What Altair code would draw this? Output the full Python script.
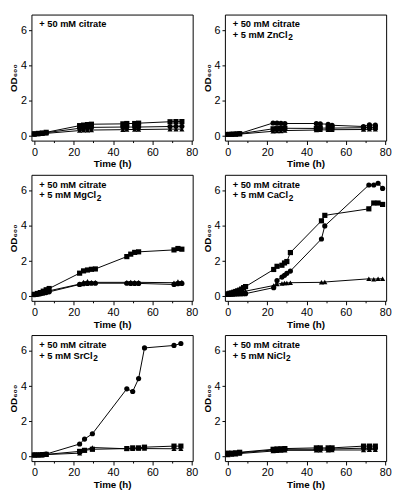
import altair as alt
import pandas as pd

# ---- data ----
t1 = [0, 2, 4, 6, 23, 25, 27, 29, 45, 47, 51, 53, 69, 72, 75]
sq1 = [0.14, 0.16, 0.18, 0.22, 0.6, 0.63, 0.66, 0.68, 0.7, 0.72, 0.72, 0.74, 0.82, 0.83, 0.83]
ci1 = [0.12, 0.14, 0.16, 0.2, 0.45, 0.47, 0.48, 0.5, 0.52, 0.52, 0.52, 0.52, 0.55, 0.56, 0.56]
tr1 = [0.1, 0.12, 0.14, 0.16, 0.32, 0.33, 0.34, 0.35, 0.37, 0.38, 0.38, 0.38, 0.4, 0.4, 0.4]

t2 = [0, 2, 4, 6, 23, 25, 27, 29, 45, 47, 51, 53, 69, 72, 75]
sq2 = [0.1, 0.11, 0.12, 0.14, 0.42, 0.43, 0.44, 0.45, 0.44, 0.46, 0.46, 0.46, 0.48, 0.5, 0.5]
ci2 = [0.1, 0.12, 0.13, 0.15, 0.75, 0.74, 0.73, 0.72, 0.72, 0.7, 0.68, 0.62, 0.55, 0.64, 0.63]
tr2 = [0.09, 0.1, 0.11, 0.12, 0.28, 0.3, 0.3, 0.32, 0.35, 0.36, 0.36, 0.37, 0.38, 0.4, 0.4]

t3 = [0, 1.5, 3, 4.5, 6, 7.5, 23, 25, 27, 29, 31, 47, 49, 51, 53, 71, 73, 75]
sq3 = [0.12, 0.17, 0.22, 0.3, 0.38, 0.45, 1.32, 1.45, 1.5, 1.54, 1.56, 2.26, 2.4, 2.5, 2.53, 2.64, 2.72, 2.68]
ci3 = [0.1, 0.12, 0.15, 0.18, 0.22, 0.26, 0.68, 0.72, 0.74, 0.75, 0.75, 0.75, 0.74, 0.74, 0.74, 0.68, 0.72, 0.74]
tr3 = [0.1, 0.13, 0.17, 0.22, 0.27, 0.32, 0.7, 0.82, 0.86, 0.8, 0.8, 0.8, 0.82, 0.8, 0.8, 0.78, 0.85, 0.82]

t4 = [0, 1, 2, 3, 4, 5, 6, 7, 8, 9, 23.3, 25, 27.5, 28.8, 30, 31.8, 47.6, 49.3, 71.7, 74.2, 76.4, 78.7]
sq4 = [0.15, 0.18, 0.2, 0.24, 0.28, 0.32, 0.36, 0.42, 0.5, 0.56, 1.53, 1.71, 1.77, 1.9, 1.98, 2.49, 4.29, 4.6, 4.97, 5.3, 5.3, 5.22]
ci4 = [0.12, 0.12, 0.13, 0.13, 0.14, 0.14, 0.15, 0.15, 0.16, 0.16, 0.5, 0.9, 1.1, 1.2, 1.31, 1.44, 3.26, 4.0, 6.32, 6.32, 6.42, 6.13]
tr4 = [0.1, 0.12, 0.14, 0.16, 0.18, 0.2, 0.23, 0.26, 0.28, 0.3, 0.62, 0.7, 0.74, 0.76, 0.76, 0.78, 0.8, 0.82, 1.0, 0.98, 1.0, 1.0]

t5 = [0, 2, 4, 6, 23, 25.5, 29.5, 47, 50, 53, 56, 71, 74.5]
sq5 = [0.1, 0.1, 0.12, 0.13, 0.3, 0.36, 0.42, 0.46, 0.5, 0.5, 0.54, 0.6, 0.6]
ci5 = [0.1, 0.1, 0.1, 0.15, 0.72, 1.0, 1.3, 3.85, 3.7, 4.43, 6.17, 6.31, 6.42]
tr5 = [0.08, 0.09, 0.1, 0.12, 0.2, 0.38, 0.52, 0.45, 0.45, 0.46, 0.46, 0.45, 0.45]

t6 = [0, 2, 4, 6, 23, 25, 27, 29, 45, 47, 51, 53, 69, 72, 75]
sq6 = [0.2, 0.2, 0.22, 0.25, 0.42, 0.44, 0.45, 0.46, 0.5, 0.5, 0.5, 0.5, 0.6, 0.6, 0.6]
ci6 = [0.15, 0.16, 0.18, 0.22, 0.38, 0.4, 0.4, 0.42, 0.42, 0.44, 0.44, 0.44, 0.48, 0.48, 0.48]
tr6 = [0.1, 0.12, 0.14, 0.18, 0.32, 0.34, 0.35, 0.36, 0.36, 0.37, 0.37, 0.38, 0.38, 0.4, 0.4]

line1 = "+ 50 mM citrate"
salts = [None, "+ 5 mM ZnCl", "+ 5 mM MgCl", "+ 5 mM CaCl", "+ 5 mM SrCl", "+ 5 mM NiCl"]
subscript = "2"

x_ticks = [0, 10, 20, 30, 40, 50, 60, 70, 80]
y_ticks = [0, 2, 4, 6]

FONT = "Liberation Sans"
FS = 9.5
W, H = 165, 129

# Liberation Sans Bold advance widths (em) used to place the subscript after the salt name
ADV = {"+": 0.584, " ": 0.278, "5": 0.556, "m": 0.889, "M": 0.833, "Z": 0.611, "n": 0.611,
       "C": 0.722, "l": 0.278, "g": 0.611, "a": 0.556, "S": 0.667, "r": 0.389, "N": 0.722,
       "i": 0.278}


def text_width(s):
    return sum(ADV.get(c, 0.556) for c in s) * FS


def panel(t, sq, ci, tr, salt):
    n = len(t)
    df = pd.DataFrame({
        "t": t * 3,
        "od": sq + ci + tr,
        "s": ["sq"] * n + ["ci"] * n + ["tr"] * n,
    })
    x = alt.X("t:Q", scale=alt.Scale(domain=[-1.5, 80.5], nice=False, zero=False),
              axis=alt.Axis(values=x_ticks, title="Time (h)",
                            labelExpr="datum.value % 20 === 0 ? datum.label : ''",
                            tickSize={"condition": {"test": "datum.value % 20 === 0", "value": 4}, "value": 2}))
    y = alt.Y("od:Q", scale=alt.Scale(domain=[-0.25, 6.9], nice=False),
              axis=alt.Axis(values=y_ticks, title="OD₆₀₀"))
    base = alt.Chart(df)
    line = base.mark_line(color="black", strokeWidth=1).encode(x=x, y=y, detail="s:N")
    pts = base.mark_point(filled=True, color="black", opacity=1, size=28).encode(
        x=x, y=y,
        shape=alt.Shape("s:N", scale=alt.Scale(domain=["sq", "ci", "tr"],
                                                range=["square", "circle", "triangle-up"]),
                        legend=None))
    one = pd.DataFrame({"a": [0]})
    style = dict(align="left", baseline="top", font=FONT, fontWeight="bold", color="black")
    layers = [line, pts,
              alt.Chart(one).mark_text(text=line1, fontSize=FS, **style)
              .encode(x=alt.value(8), y=alt.value(5))]
    if salt:
        layers.append(alt.Chart(one).mark_text(text=salt, fontSize=FS, **style)
                      .encode(x=alt.value(8), y=alt.value(16)))
        layers.append(alt.Chart(one).mark_text(text=subscript, fontSize=8.5, **style)
                      .encode(x=alt.value(8 + text_width(salt) + 0.5), y=alt.value(19.5)))
    return alt.layer(*layers).properties(width=W, height=H)


row1 = alt.hconcat(panel(t1, sq1, ci1, tr1, salts[0]), panel(t2, sq2, ci2, tr2, salts[1]), spacing=3)
row2 = alt.hconcat(panel(t3, sq3, ci3, tr3, salts[2]), panel(t4, sq4, ci4, tr4, salts[3]), spacing=3)
row3 = alt.hconcat(panel(t5, sq5, ci5, tr5, salts[4]), panel(t6, sq6, ci6, tr6, salts[5]), spacing=3)

chart = alt.vconcat(row1, row2, row3, spacing=4).properties(
    padding={"left": 0, "top": 0, "right": 0, "bottom": 0}
).configure_view(stroke="black", strokeWidth=1).configure_axis(
    grid=False, domain=False, tickColor="black", labelColor="black",
    labelFont=FONT, labelFontSize=11, titleFont=FONT, titleFontSize=10,
    titleFontWeight="bold", titleColor="black", labelPadding=2, titlePadding=2, tickSize=3
)

chart.save("out.html", embed_options={"renderer": "svg", "actions": False})
